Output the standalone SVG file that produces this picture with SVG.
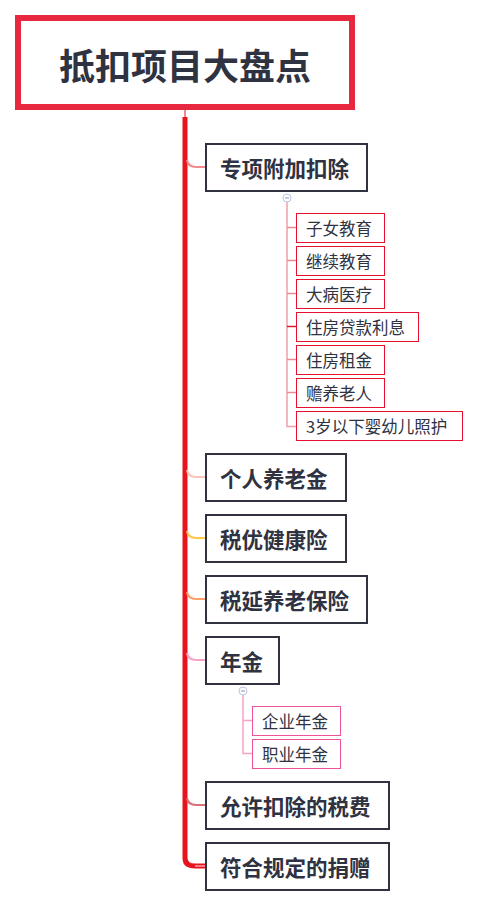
<svg xmlns="http://www.w3.org/2000/svg" width="480" height="907" viewBox="0 0 480 907">
<style>
text{font-family:"Noto Sans CJK SC","Noto Sans",sans-serif;fill:#2f3241;dominant-baseline:central}
.root rect{fill:#fff;stroke:#e8283f;stroke-width:6}
.root text{font-size:36px;font-weight:700;text-anchor:middle}
.main rect{fill:#fff;stroke:#30323f;stroke-width:2}
.main text{font-size:21.5px;font-weight:700}
.sub rect{fill:#fff;stroke:#e8112d;stroke-width:1}
.pk rect{stroke:#f0529c}
.sub text{font-size:16.5px}
.conn path{fill:none}
.tog{fill:#fff;stroke:#b8c4e0;stroke-width:1}
</style>
<rect width="480" height="907" fill="#fff"/>
<g id="connectors" class="conn">
<path d="M185 110 V117" stroke="#e8141d" stroke-width="1"/>
<path d="M185 117 V858 Q185 866 195 866 H205" stroke="#e8141d" stroke-width="5"/>
<path d="M187 160 Q188 167 196 167 H205" stroke="#f28a8e" stroke-width="2"/>
<path d="M187 470 Q188 477 196 477 H205" stroke="#f8c6b8" stroke-width="2"/>
<path d="M187 531 Q188 538 196 538 H205" stroke="#ffc84a" stroke-width="2"/>
<path d="M187 592 Q188 599 196 599 H205" stroke="#ff9f6a" stroke-width="2"/>
<path d="M187 653 Q188 660 196 660 H205" stroke="#f7a3c6" stroke-width="2"/>
<path d="M187 798 Q188 805 196 805 H205" stroke="#d8707a" stroke-width="2"/>
<path d="M195 866 H205" stroke="#f07c84" stroke-width="2"/>
<path d="M287 202 V426.5 H297" stroke="#f0a0a8" stroke-width="1.5"/>
<path d="M287 227.5 H297 M287 260.5 H297 M287 293.5 H297 M287 359.5 H297 M287 392.5 H297" stroke="#f08a92" stroke-width="1.5"/>
<path d="M287 326.5 H297" stroke="#d81e2c" stroke-width="1.5"/>
<path d="M243 695 V753.5 H252 M243 720.5 H252" stroke="#f7a3c6" stroke-width="1.5"/>
<circle class="tog" cx="287" cy="198" r="4"/>
<path d="M285 198 H289" stroke="#8090b8" stroke-width="1"/>
<circle class="tog" cx="243" cy="691" r="4"/>
<path d="M241 691 H245" stroke="#8090b8" stroke-width="1"/>
</g>
<g id="root" class="root"><rect x="18" y="18" width="334" height="89"/><text x="185" y="64">抵扣项目大盘点</text></g>
<g id="n1" class="main"><rect x="206" y="144" width="161" height="47"/><text x="220" y="167">专项附加扣除</text></g>
<g id="c1" class="sub"><rect x="296.5" y="213.5" width="88" height="29"/><text x="306" y="228">子女教育</text></g>
<g id="c2" class="sub"><rect x="296.5" y="246.5" width="88" height="29"/><text x="306" y="261">继续教育</text></g>
<g id="c3" class="sub"><rect x="296.5" y="279.5" width="88" height="29"/><text x="306" y="294">大病医疗</text></g>
<g id="c4" class="sub"><rect x="296.5" y="312.5" width="122" height="29"/><text x="306" y="327">住房贷款利息</text></g>
<g id="c5" class="sub"><rect x="296.5" y="345.5" width="88" height="29"/><text x="306" y="360">住房租金</text></g>
<g id="c6" class="sub"><rect x="296.5" y="378.5" width="88" height="29"/><text x="306" y="393">赡养老人</text></g>
<g id="c7" class="sub"><rect x="296.5" y="411.5" width="166" height="29"/><text x="306" y="426">3岁以下婴幼儿照护</text></g>
<g id="n2" class="main"><rect x="206" y="454" width="140" height="47"/><text x="220" y="477">个人养老金</text></g>
<g id="n3" class="main"><rect x="206" y="515" width="140" height="47"/><text x="220" y="538">税优健康险</text></g>
<g id="n4" class="main"><rect x="206" y="576" width="161" height="47"/><text x="220" y="599">税延养老保险</text></g>
<g id="n5" class="main"><rect x="206" y="637" width="73" height="47"/><text x="220" y="660">年金</text></g>
<g id="c8" class="sub pk"><rect x="252.5" y="706.5" width="88" height="29"/><text x="262" y="721">企业年金</text></g>
<g id="c9" class="sub pk"><rect x="252.5" y="739.5" width="88" height="29"/><text x="262" y="754">职业年金</text></g>
<g id="n6" class="main"><rect x="206" y="782" width="183" height="47"/><text x="220" y="805">允许扣除的税费</text></g>
<g id="n7" class="main"><rect x="206" y="843" width="183" height="47"/><text x="220" y="866">符合规定的捐赠</text></g>
</svg>
